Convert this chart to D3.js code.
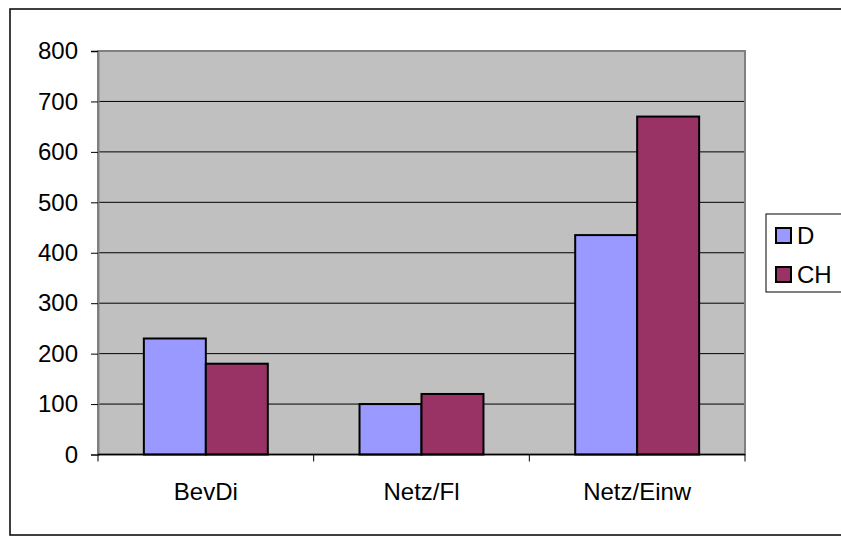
<!DOCTYPE html>
<html>
<head>
<meta charset="utf-8">
<script src="https://cdn.jsdelivr.net/npm/d3@7"></script>
<style>
body { margin: 0; background: #fff; }
text { font-family: "Liberation Sans", Arial, sans-serif; fill: #000; }
</style>
</head>
<body>
<script>
var width = 841, height = 536;

var categories = ["BevDi", "Netz/Fl", "Netz/Einw"];
var seriesNames = ["D", "CH"];
var valuesD = [230, 100, 435];
var valuesCH = [180, 120, 670];
var yTicks = [0, 100, 200, 300, 400, 500, 600, 700, 800];

var colors = d3.scaleOrdinal().domain(seriesNames).range(["#9999FF", "#993366"]);

var rows = categories.map(function(c, i) {
    return {cat: c, vals: [{s: "D", v: valuesD[i]}, {s: "CH", v: valuesCH[i]}]};
});

var svg = d3.select("body").append("svg")
    .attr("width", width).attr("height", height);

// outer chart frame
svg.append("rect").attr("x", 10).attr("y", 9).attr("width", 840).attr("height", 526)
    .attr("fill", "none").attr("stroke", "#000").attr("stroke-width", 1.5);

var pLeft = 98, pRight = 745, pTop = 51, pBottom = 454.5;

var x = d3.scaleBand().domain(categories).range([pLeft, pRight]);
var xs = d3.scaleBand().domain(seriesNames).range([0, x.bandwidth()]).paddingInner(0).paddingOuter(0.74);
var y = d3.scaleLinear().domain([0, 800]).range([pBottom, pTop]);

// plot background
svg.append("rect").attr("x", pLeft).attr("y", pTop).attr("width", pRight - pLeft).attr("height", pBottom - pTop)
    .attr("fill", "#C0C0C0");

// gridlines
svg.append("g").selectAll("line").data(yTicks.slice(1)).enter().append("line")
    .attr("x1", pLeft).attr("x2", pRight)
    .attr("y1", function(d) { return y(d); }).attr("y2", function(d) { return y(d); })
    .attr("stroke", "#000").attr("stroke-width", 1);

// plot border
svg.append("rect").attr("x", pLeft).attr("y", pTop).attr("width", pRight - pLeft).attr("height", pBottom - pTop)
    .attr("fill", "none").attr("stroke", "#808080").attr("stroke-width", 2);

// bars
var groups = svg.append("g").selectAll("g").data(rows).enter().append("g")
    .attr("transform", function(d) { return "translate(" + x(d.cat) + ",0)"; });
groups.selectAll("rect").data(function(d) { return d.vals; }).enter().append("rect")
    .attr("x", function(d) { return xs(d.s); })
    .attr("width", xs.bandwidth())
    .attr("y", function(d) { return y(d.v); })
    .attr("height", function(d) { return pBottom - y(d.v); })
    .attr("fill", function(d) { return colors(d.s); })
    .attr("stroke", "#000").attr("stroke-width", 2);

// y axis
var yAxis = svg.append("g").attr("transform", "translate(" + pLeft + ",0)")
    .call(d3.axisLeft(y).tickValues(yTicks).tickSize(7).tickPadding(13));
yAxis.attr("font-family", null).attr("font-size", null);
yAxis.select(".domain").attr("stroke", "#808080").attr("stroke-width", 2);
yAxis.selectAll("text").style("font-size", "24px").attr("fill", "#000");

// x axis
var xAxis = svg.append("g").attr("transform", "translate(0," + pBottom + ")")
    .call(d3.axisBottom(x).tickSize(0).tickPadding(28));
xAxis.attr("font-family", null).attr("font-size", null);
xAxis.select(".domain").remove();
xAxis.selectAll("text").style("font-size", "24px").attr("fill", "#000");
svg.append("line").attr("x1", pLeft).attr("x2", pRight).attr("y1", pBottom).attr("y2", pBottom)
    .attr("stroke", "#000").attr("stroke-width", 1.5);
svg.append("g").selectAll("line").data([0, 1, 2, 3]).enter().append("line")
    .attr("x1", function(d) { return pLeft + d * x.step(); })
    .attr("x2", function(d) { return pLeft + d * x.step(); })
    .attr("y1", pBottom).attr("y2", pBottom + 7)
    .attr("stroke", "#000").attr("stroke-width", 1);

// legend
var lg = svg.append("g").attr("transform", "translate(766,214)");
lg.append("rect").attr("width", 80).attr("height", 78)
    .attr("fill", "#fff").attr("stroke", "#000").attr("stroke-width", 1);
var items = lg.selectAll(".legends").data(seriesNames).enter().append("g")
    .attr("transform", function(d, i) { return "translate(10," + (14 + i * 39) + ")"; });
items.append("rect").attr("width", 15).attr("height", 15)
    .attr("fill", function(d) { return colors(d); })
    .attr("stroke", "#000").attr("stroke-width", 2);
items.append("text").attr("x", 21).attr("y", 16).style("font-size", "24px").text(function(d) { return d; });
</script>
</body>
</html>
